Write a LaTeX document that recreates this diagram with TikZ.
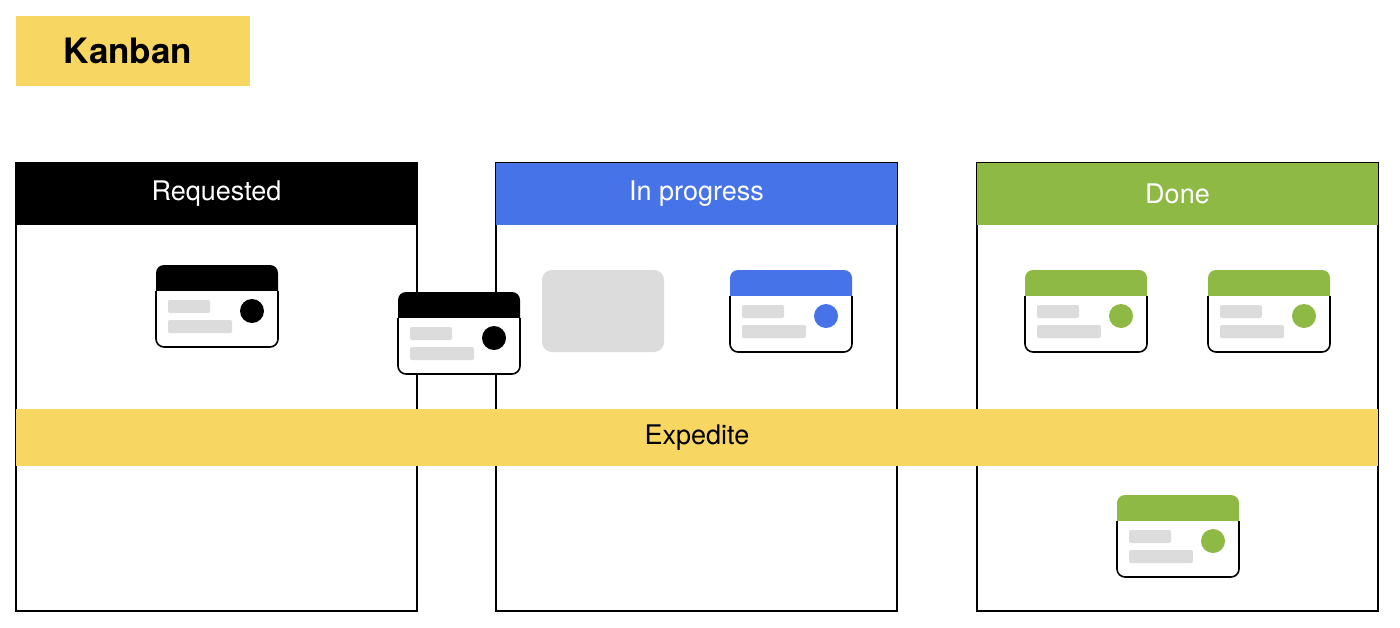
\documentclass[tikz,border=0pt]{standalone}
\usepackage{fontspec}
\setmainfont{TeX Gyre Heros}
\definecolor{kyellow}{RGB}{248,214,98}
\definecolor{kblue}{RGB}{70,116,232}
\definecolor{kgreen}{RGB}{141,185,68}
\definecolor{kgray}{RGB}{220,220,220}
\usepackage{tikz}
\usetikzlibrary{positioning,calc}

\tikzset{
  kcard/.pic={
    \path[fill=white,rounded corners=8pt] (0,0) rectangle (122,82);
    \begin{scope}
      \clip[rounded corners=8pt] (0,0) rectangle (122,82);
      \fill[#1] (-2,-2) rectangle (124,26);
    \end{scope}
    \fill[kgray,rounded corners=2pt] (12,35) rectangle (54,48);
    \fill[kgray,rounded corners=2pt] (12,55) rectangle (76,68);
    \fill[#1] (96,46) circle (12);
    \draw[line width=1.6pt,rounded corners=8pt] (0,26) |- (122,82) -- (122,26);
  }
}

\begin{document}
\begin{tikzpicture}[x=1pt,y=-1pt,
    colhead/.style={rectangle,text=white,minimum width=401pt,minimum height=62pt,inner sep=0pt,font=\fontsize{27}{32}\selectfont},
    colline/.style={line width=1.7pt}]
    \useasboundingbox[fill=white] (0,0) rectangle (1400,627);

    % Title
    \fill[kyellow] (16,16) rectangle (250,86);
    \node[font=\fontsize{35}{40}\selectfont\bfseries] (title) at (128,51) {Kanban};

    % Columns
    \foreach \name/\x/\col/\txt in {req/16/black/Requested,prog/496/kblue/In progress,done/977/kgreen/Done} {
        \draw[colline] (\x,163) rectangle ($(\x,611)+(401,0)$);
        \node[colhead,fill=\col] (\name) at ($(\x,194)+(200.5,0)$) {\txt};
    }

    % Expedite lane
    \node[rectangle,fill=kyellow,minimum width=1362pt,minimum height=57pt,inner sep=0pt,
          font=\fontsize{27}{32}\selectfont] (expedite) at (697,437.5) {Expedite};

    % Cards
    \pic (card1) at (156,265) {kcard=black};
    \pic (card2) at (398,292) {kcard=black};
    \fill[kgray,rounded corners=10pt] (542,270) rectangle (664,352);
    \pic (card3) at (730,270) {kcard=kblue};
    \pic (card4) at (1025,270) {kcard=kgreen};
    \pic (card5) at (1208,270) {kcard=kgreen};
    \pic (card6) at (1117,495) {kcard=kgreen};
\end{tikzpicture}
\end{document}
